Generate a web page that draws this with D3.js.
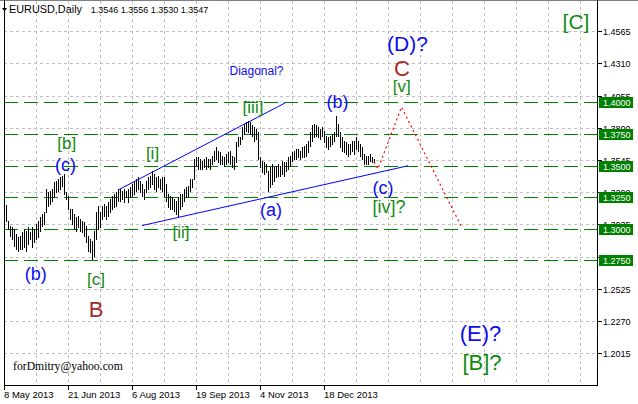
<!DOCTYPE html>
<html><head><meta charset="utf-8">
<script src="https://cdn.jsdelivr.net/npm/d3@7/dist/d3.min.js"></script>
<style>
html,body{margin:0;padding:0;background:#fff;}
svg{display:block;font-family:"Liberation Sans",Arial,sans-serif;}
</style></head>
<body>
<svg id="chart" width="638" height="404"></svg>
<script>
// ---- data ----
const symbol = "EURUSD,Daily";
const ohlc = ["1.3546", "1.3556", "1.3530", "1.3547"];
const firstBarIndex = 1; // bar index 0 = 8 May 2013
const highs = [
1.3188,1.3064,1.3023,1.3013,1.2997,1.2957,1.2934,1.2944,1.2973,1.2997,
1.2984,1.3013,1.2973,1.3013,1.2997,1.3037,1.3064,1.3093,1.3117,1.3133,
1.3315,1.3291,1.3302,1.3315,1.3370,1.3381,1.3394,1.3410,1.3420,1.3434,
1.3291,1.3262,1.3156,1.3156,1.3117,1.3093,1.3103,1.3077,1.3064,1.3053,
1.3023,1.2944,1.2918,1.2905,1.2984,1.3133,1.3180,1.3133,1.3182,1.3196,
1.3182,1.3212,1.3236,1.3262,1.3275,1.3291,1.3315,1.3315,1.3302,1.3315,
1.3302,1.3315,1.3331,1.3355,1.3370,1.3394,1.3410,1.3381,1.3355,1.3315,
1.3381,1.3410,1.3420,1.3460,1.3434,1.3410,1.3420,1.3394,1.3410,1.3410,
1.3355,1.3275,1.3262,1.3252,1.3236,1.3222,1.3252,1.3275,1.3275,1.3315,
1.3331,1.3341,1.3394,1.3394,1.3553,1.3569,1.3569,1.3553,1.3540,1.3553,
1.3569,1.3553,1.3553,1.3580,1.3619,1.3649,1.3619,1.3609,1.3580,1.3569,
1.3593,1.3609,1.3619,1.3580,1.3569,1.3688,1.3728,1.3728,1.3807,1.3831,
1.3847,1.3857,1.3847,1.3818,1.3807,1.3791,1.3767,1.3569,1.3540,1.3529,
1.3514,1.3460,1.3490,1.3514,1.3490,1.3500,1.3514,1.3500,1.3540,1.3529,
1.3529,1.3569,1.3580,1.3609,1.3619,1.3633,1.3633,1.3619,1.3649,1.3659,
1.3672,1.3698,1.3767,1.3818,1.3831,1.3818,1.3807,1.3791,1.3807,1.3778,
1.3738,1.3728,1.3738,1.3752,1.3767,1.3897,1.3831,1.3767,1.3728,1.3698,
1.3688,1.3672,1.3672,1.3698,1.3698,1.3728,1.3698,1.3672,1.3649,1.3593,
1.3580,1.3580,1.3593,1.3569,1.3556];
const lows = [
1.3061,1.2997,1.2944,1.2918,1.2865,1.2839,1.2826,1.2839,1.2839,1.2855,
1.2826,1.2878,1.2918,1.2855,1.2894,1.2918,1.2934,1.2984,1.3023,1.3037,
1.3133,1.3182,1.3196,1.3222,1.3252,1.3291,1.3302,1.3315,1.3341,1.3275,
1.3236,1.3156,1.3077,1.3037,1.2997,1.2984,1.3013,1.2984,1.2973,1.2944,
1.2894,1.2826,1.2815,1.2759,1.2786,1.2918,1.2997,1.3013,1.3077,1.3103,
1.3077,1.3103,1.3133,1.3156,1.3172,1.3182,1.3222,1.3222,1.3236,1.3212,
1.3252,1.3212,1.3252,1.3262,1.3275,1.3302,1.3315,1.3291,1.3262,1.3236,
1.3291,1.3315,1.3331,1.3355,1.3315,1.3302,1.3331,1.3315,1.3302,1.3262,
1.3222,1.3172,1.3156,1.3156,1.3143,1.3117,1.3103,1.3156,1.3182,1.3222,
1.3252,1.3262,1.3302,1.3331,1.3394,1.3500,1.3474,1.3474,1.3474,1.3490,
1.3474,1.3490,1.3474,1.3514,1.3540,1.3553,1.3529,1.3514,1.3514,1.3500,
1.3514,1.3529,1.3514,1.3490,1.3474,1.3529,1.3659,1.3672,1.3712,1.3752,
1.3778,1.3767,1.3752,1.3738,1.3698,1.3712,1.3553,1.3490,1.3450,1.3434,
1.3450,1.3302,1.3331,1.3355,1.3381,1.3410,1.3420,1.3420,1.3434,1.3420,
1.3460,1.3474,1.3500,1.3540,1.3553,1.3553,1.3569,1.3553,1.3569,1.3569,
1.3580,1.3609,1.3659,1.3698,1.3728,1.3738,1.3728,1.3712,1.3738,1.3688,
1.3649,1.3633,1.3659,1.3672,1.3698,1.3738,1.3738,1.3649,1.3619,1.3609,
1.3593,1.3580,1.3593,1.3619,1.3593,1.3633,1.3619,1.3580,1.3553,1.3514,
1.3514,1.3514,1.3540,1.3529,1.3530];

const priceTicks = [1.2015,1.2270,1.2525,1.2780,1.3035,1.3290,1.3545,1.3800,1.4055,1.4310,1.4565];
const levelPrices = [1.4000,1.3750,1.3500,1.3250,1.3000,1.2750];
const dateTickIndex = [0,32,64,96,128,160];
const dateTickLabels = ["8 May 2013","21 Jun 2013","6 Aug 2013","19 Sep 2013","4 Nov 2013","18 Dec 2013"];

// trend lines [index, price]
const upperLine = [[57,1.3307],[140.5,1.3996]];
const lowerLine = [[69,1.3026],[202,1.3499]];
// forecast path [index, price]
const forecastPath = [[185,1.3529],[187,1.3474],[198.75,1.3964],[229,1.3007]];

// wave labels: text, bar index, price (baseline), colour kind, size
const labelText  = ["[C]","(D)?","C","[v]","(c)","[iv]?","(b)","(a)","[iii]","[i]","[ii]","[b]","(c)","(b)","[c]","B","Diagonal?","(E)?","[B]?"];
const labelIndex = [286,201.75,199,198.85,189.5,192.5,166.75,133.5,124.5,74.25,88.5,31.35,30.75,15.85,46,46,126.25,238.25,239];
const labelPrice = [1.4582,1.4411,1.4206,1.4080,1.3272,1.3125,1.3956,1.3102,1.3917,1.3553,1.2927,1.3632,1.3458,1.2599,1.2559,1.2305,1.4217,1.2112,1.1883];
const labelKind  = ["g","b","r","g","b","g","b","b","g","g","g","g","b","b","g","r","b","b","g"];
const labelSize  = [21,21,22,17,18,18,18,18,17,17,17,17,18,18,17,22,12,22,22];

// ---- drawing ----
const svg = d3.select("#chart");
const L = 4, R = 597, T = 1, B = 385;
const x = d3.scaleLinear().domain([0, 296.5]).range([L, R]);
const y = d3.scaleLinear().domain([1.2015, 1.4565]).range([353.3, 31.1]);

const col = {g:"#128a12", b:"#0c0cf0", r:"#a82828"};

svg.append("rect").attr("width",638).attr("height",404).attr("fill","#fff");

// grid
const grid = svg.append("g").attr("stroke","#c0c0c0").attr("stroke-dasharray","3,3").attr("shape-rendering","crispEdges");
d3.range(16, 296, 16).forEach(i => {
  grid.append("line").attr("x1",Math.round(x(i))+0.5).attr("x2",Math.round(x(i))+0.5).attr("y1",T).attr("y2",B);
});
priceTicks.forEach(p => {
  grid.append("line").attr("x1",L).attr("x2",R).attr("y1",Math.round(y(p))+0.5).attr("y2",Math.round(y(p))+0.5);
});

// level lines
const lv = svg.append("g").attr("stroke","#008000").attr("stroke-width",1.2).attr("stroke-dasharray","14,6").attr("shape-rendering","crispEdges");
levelPrices.forEach(p => {
  lv.append("line").attr("x1",L).attr("x2",R).attr("y1",Math.round(y(p))+0.5).attr("y2",Math.round(y(p))+0.5);
});

// bars
svg.append("g").attr("stroke","#000").attr("shape-rendering","crispEdges")
  .selectAll("line").data(highs).join("line")
  .attr("x1",(d,i)=>Math.round(x(i+firstBarIndex))+0.5)
  .attr("x2",(d,i)=>Math.round(x(i+firstBarIndex))+0.5)
  .attr("y1",d=>Math.round(y(d)))
  .attr("y2",(d,i)=>Math.round(y(lows[i]))+1);

// trend lines
const ln = d3.line().x(d=>x(d[0])).y(d=>y(d[1]));
svg.append("path").attr("d",ln(upperLine)).attr("stroke","#0000ff").attr("fill","none").attr("stroke-width",1);
svg.append("path").attr("d",ln(lowerLine)).attr("stroke","#0000ff").attr("fill","none").attr("stroke-width",1);
svg.append("path").attr("d",ln(forecastPath)).attr("stroke","#ff0000").attr("fill","none").attr("stroke-width",1.2).attr("stroke-dasharray","2,3");

// labels
svg.append("g").selectAll("text").data(labelText).join("text")
  .attr("x",(d,i)=>x(labelIndex[i]))
  .attr("y",(d,i)=>y(labelPrice[i]))
  .attr("text-anchor","middle")
  .attr("font-size",(d,i)=>labelSize[i])
  .attr("fill",(d,i)=>col[labelKind[i]])
  .text(d=>d);

// email
svg.append("text").attr("x",13).attr("y",370).attr("font-family","'Liberation Serif','Times New Roman',serif")
  .attr("font-size",11.7).attr("fill","#000").text("forDmitry@yahoo.com");

// frame
const fr = svg.append("g").attr("stroke","#000").attr("shape-rendering","crispEdges");
fr.append("line").attr("x1",0).attr("x2",638).attr("y1",0.5).attr("y2",0.5).attr("stroke","#808080");
fr.append("line").attr("x1",L+0.5).attr("x2",L+0.5).attr("y1",0).attr("y2",B+1);
fr.append("line").attr("x1",R+0.5).attr("x2",R+0.5).attr("y1",0).attr("y2",B+1);
fr.append("line").attr("x1",L).attr("x2",R+1).attr("y1",B+0.5).attr("y2",B+0.5);

// right axis
const ra = svg.append("g");
priceTicks.forEach(p => {
  const yy = Math.round(y(p))+0.5;
  ra.append("line").attr("x1",R).attr("x2",R+5).attr("y1",yy).attr("y2",yy).attr("stroke","#000").attr("shape-rendering","crispEdges");
  ra.append("text").attr("x",R+6).attr("y",yy+3.3).attr("font-size",9).attr("fill","#000").text(p.toFixed(4));
});
// level price boxes
levelPrices.forEach(p => {
  const yy = Math.round(y(p))+0.5;
  ra.append("rect").attr("x",R+2).attr("y",yy-5.5).attr("width",34).attr("height",11).attr("fill","#008000");
  ra.append("text").attr("x",R+6).attr("y",yy+3.3).attr("font-size",9).attr("fill","#fff").text(p.toFixed(4));
});

// bottom axis
const ba = svg.append("g");
dateTickIndex.forEach((ix,k) => {
  const xx = Math.round(x(ix))+0.5;
  ba.append("line").attr("x1",xx).attr("x2",xx).attr("y1",B).attr("y2",B+5).attr("stroke","#000").attr("shape-rendering","crispEdges");
  ba.append("text").attr("x",xx-0.5).attr("y",398).attr("font-size",9.5).attr("fill","#000").text(dateTickLabels[k]);
});

// header
svg.append("path").attr("d","M2,8 L7,8 L4.5,11.5 Z").attr("fill","#000");
svg.append("text").attr("x",9).attr("y",13).attr("font-size",10).attr("textLength",73).attr("lengthAdjust","spacingAndGlyphs").text(symbol);
svg.append("text").attr("x",90.7).attr("y",13).attr("font-size",9).attr("fill","#000").text(ohlc.join(" "));
</script>
</body></html>
